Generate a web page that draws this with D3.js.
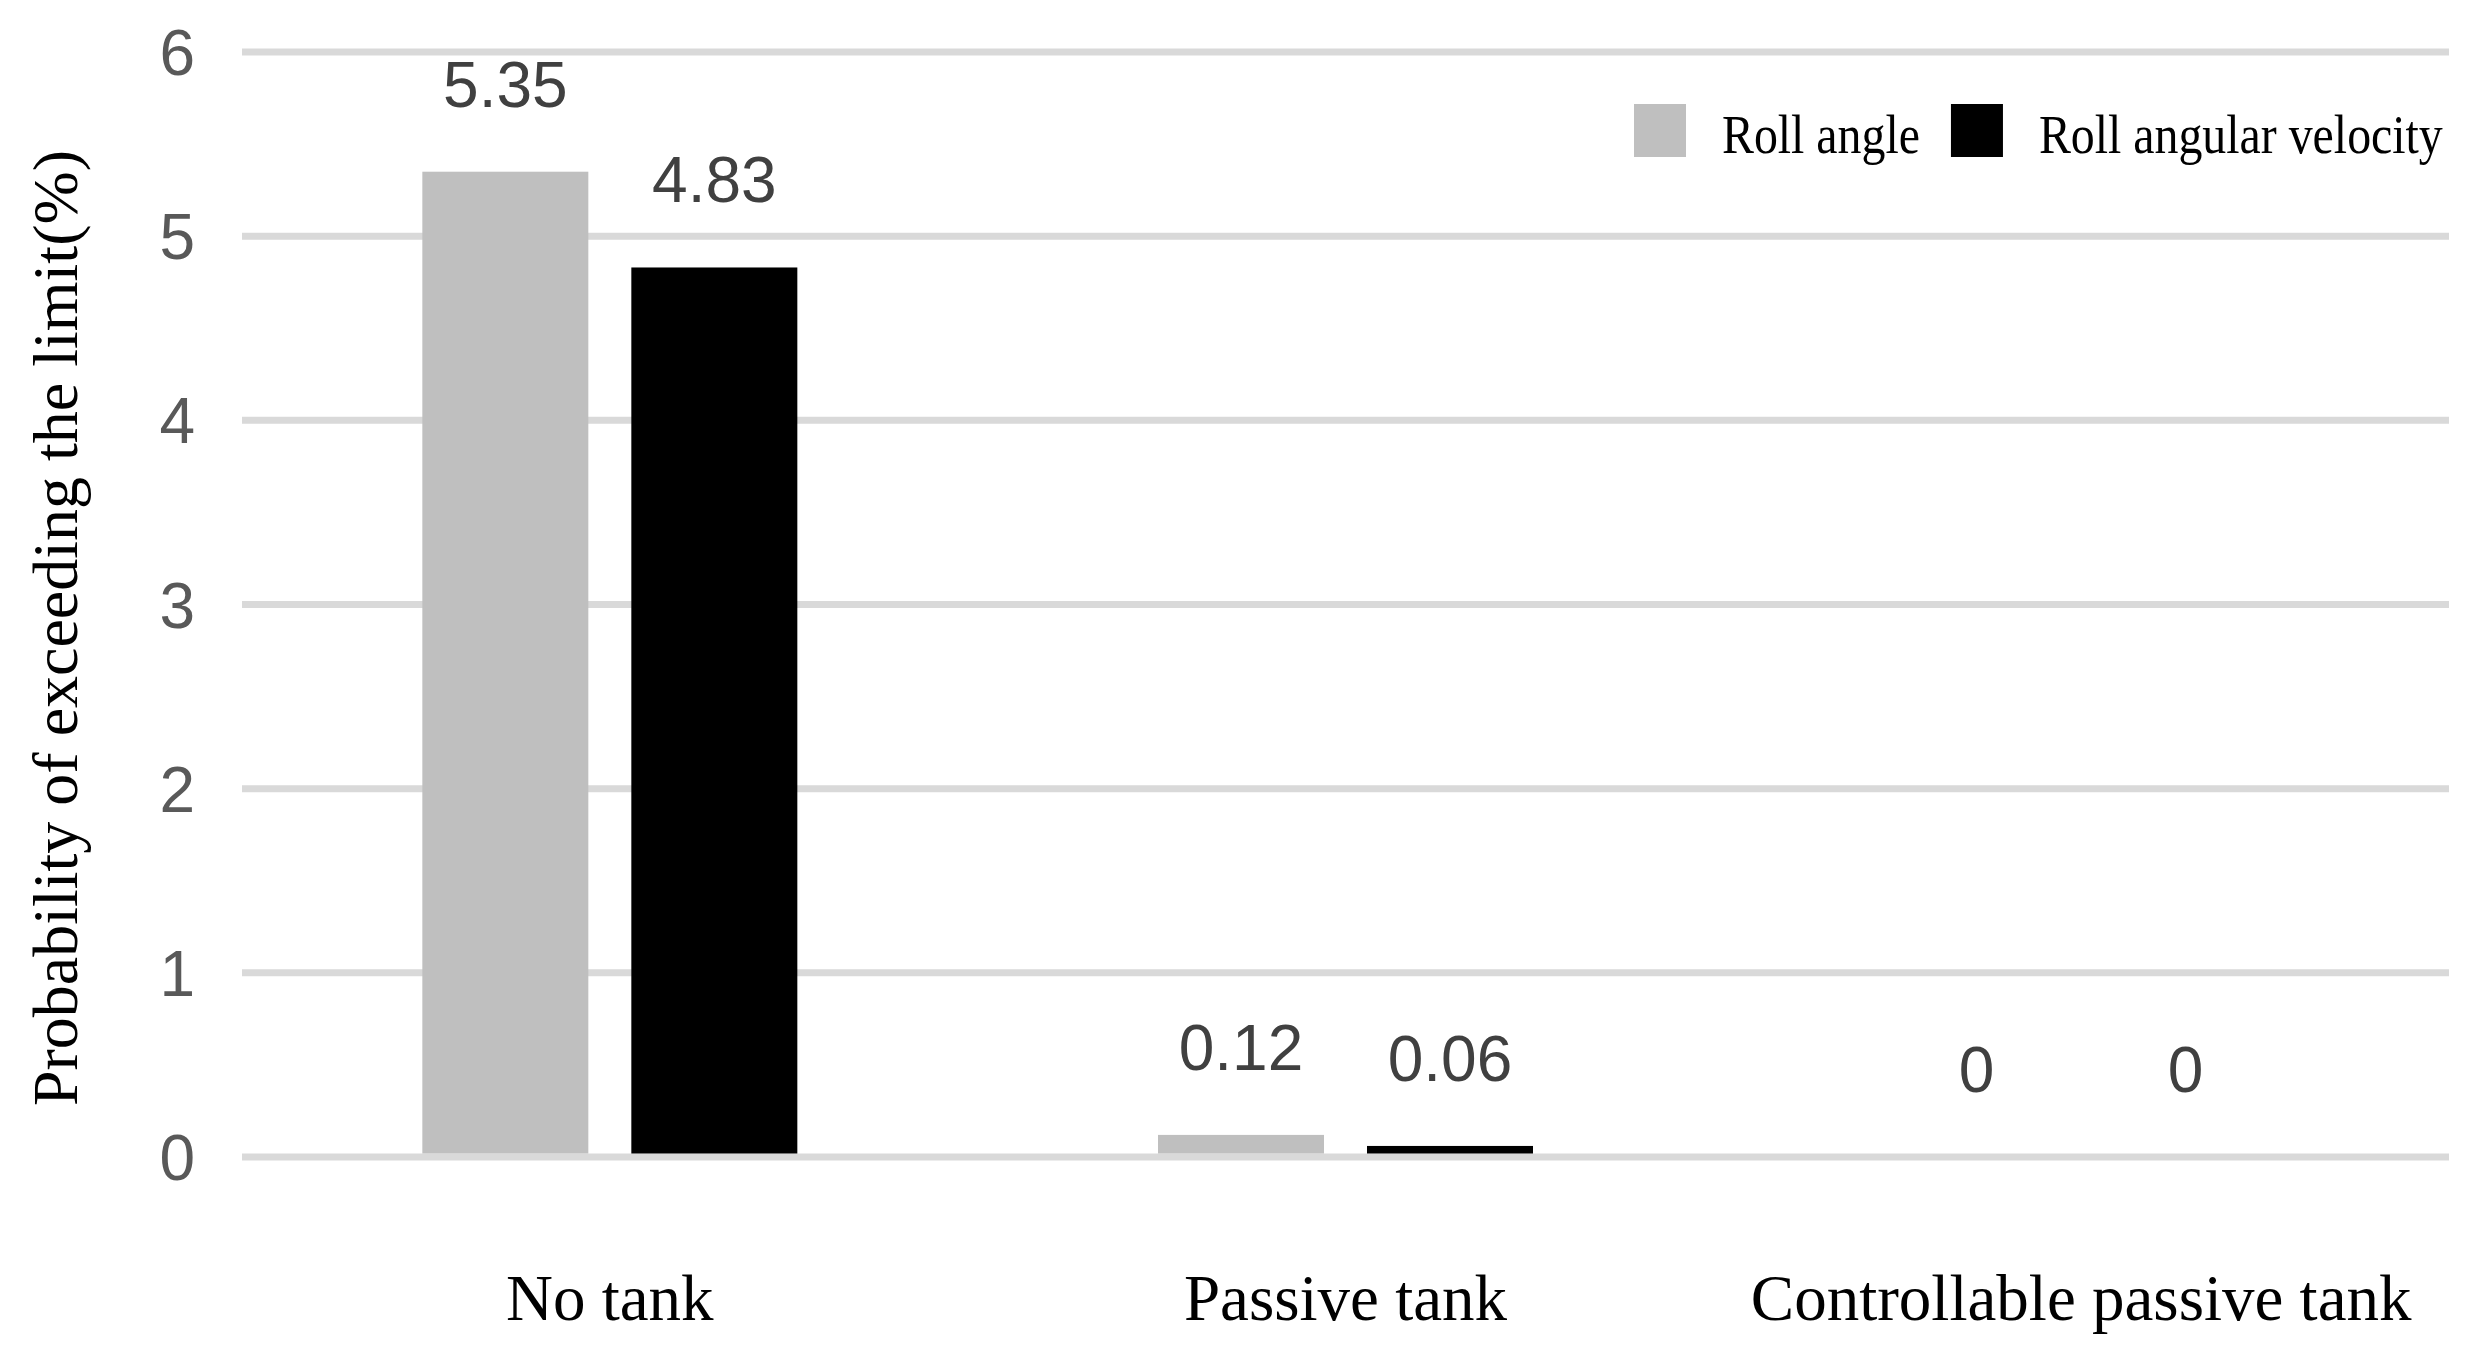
<!DOCTYPE html>
<html>
<head>
<meta charset="utf-8">
<script src="https://cdn.jsdelivr.net/npm/d3@7"></script>
<style>
  html, body { margin: 0; padding: 0; background: #ffffff; }
  svg { display: block; }
</style>
</head>
<body>
<svg id="chart" width="2489" height="1358"></svg>
<script>
// ---- data ----
const categories = ["No tank", "Passive tank", "Controllable passive tank"];
const seriesNames = ["Roll angle", "Roll angular velocity"];
const rollAngle = [5.35, 0.12, 0];
const rollAngularVelocity = [4.83, 0.06, 0];
const yTicks = [0, 1, 2, 3, 4, 5, 6];
const yTitle = "Probability of exceeding the limit(%)";
const seriesColors = ["#bfbfbf", "#000000"];

const seriesValues = [rollAngle, rollAngularVelocity];
const rows = categories.map((c, i) => ({
  cat: c,
  vals: seriesNames.map((s, j) => ({ series: s, idx: j, value: seriesValues[j][i] }))
}));

// ---- layout ----
const W = 2489, H = 1358;
const plot = { left: 242, right: 2449, top: 52, bottom: 1157 };
const svg = d3.select("#chart");

const x0 = d3.scaleBand().domain(categories).range([plot.left, plot.right]).paddingInner(0).paddingOuter(0);
const bw = x0.bandwidth();
const barW = 166;
const gap = 43;
const x1 = d3.scaleBand().domain(seriesNames)
  .range([bw / 2 - barW - gap / 2, bw / 2 + barW + gap / 2])
  .paddingInner(gap / (barW + gap)).paddingOuter(0);

const y = d3.scaleLinear().domain([0, 6]).range([plot.bottom, plot.top]);

// gridlines
const gridW = 7;
svg.append("g").selectAll("line").data(yTicks).join("line")
  .attr("x1", plot.left).attr("x2", plot.right)
  .attr("y1", d => y(d)).attr("y2", d => y(d))
  .attr("stroke", "#d9d9d9").attr("stroke-width", gridW);

// y tick labels
svg.append("g").selectAll("text").data(yTicks).join("text")
  .attr("x", 195).attr("y", d => y(d)).attr("dy", "0.36em")
  .attr("text-anchor", "end")
  .attr("font-family", "'Liberation Sans', Arial, sans-serif")
  .attr("font-size", 64).attr("fill", "#595959")
  .text(d => d);

// bars
const groups = svg.append("g").selectAll("g").data(rows).join("g")
  .attr("transform", d => `translate(${x0(d.cat)},0)`);

groups.selectAll("rect").data(d => d.vals).join("rect")
  .attr("x", d => x1(d.series))
  .attr("width", x1.bandwidth())
  .attr("y", d => y(d.value))
  .attr("height", d => Math.max(0, y(0) - gridW / 2 - y(d.value)))
  .attr("fill", d => seriesColors[d.idx]);

// data labels
groups.selectAll("text").data(d => d.vals).join("text")
  .attr("x", d => x1(d.series) + x1.bandwidth() / 2)
  .attr("y", d => y(d.value) - 65)
  .attr("text-anchor", "middle")
  .attr("font-family", "'Liberation Sans', Arial, sans-serif")
  .attr("font-size", 64).attr("fill", "#404040")
  .text(d => d.value);

// category labels
svg.append("g").selectAll("text").data(categories).join("text")
  .attr("x", d => x0(d) + bw / 2)
  .attr("y", 1320)
  .attr("text-anchor", "middle")
  .attr("font-family", "'Liberation Serif', 'Times New Roman', serif")
  .attr("font-size", 65).attr("fill", "#000000")
  .text(d => d);

// y axis title
svg.append("text")
  .attr("transform", "translate(77,628) rotate(-90)")
  .attr("text-anchor", "middle")
  .attr("font-family", "'Liberation Serif', 'Times New Roman', serif")
  .attr("font-size", 64).attr("fill", "#000000")
  .text(yTitle);

// legend
const legend = svg.append("g");
let lx = 1634;
const sx = 0.87;
seriesNames.forEach((name, i) => {
  legend.append("rect")
    .attr("x", lx).attr("y", 104).attr("width", 52).attr("height", 53)
    .attr("fill", seriesColors[i]);
  const tx = lx + 52 + 36;
  const t = legend.append("text")
    .attr("transform", `translate(${tx},153) scale(${sx},1)`)
    .attr("font-family", "'Liberation Serif', 'Times New Roman', serif")
    .attr("font-size", 55).attr("fill", "#000000")
    .text(name);
  const tw = t.node().getComputedTextLength() * sx;
  lx = tx + tw + 31;
});
</script>
</body>
</html>
